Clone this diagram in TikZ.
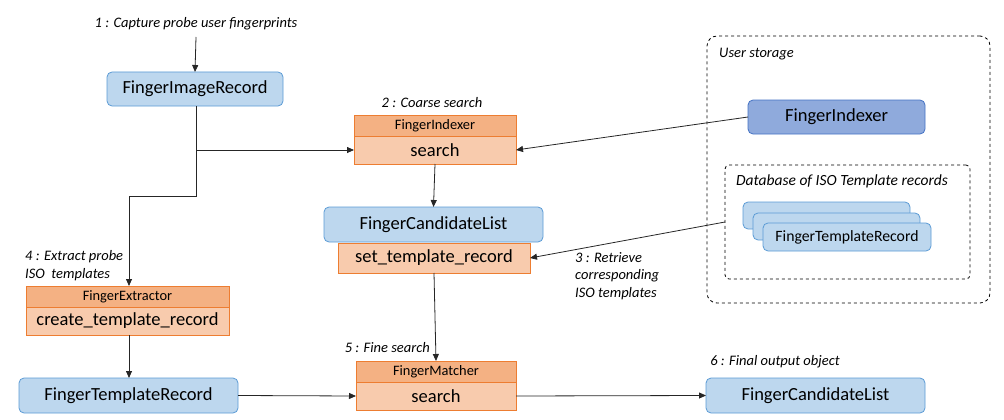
\documentclass[tikz,border=0pt]{standalone}
\usepackage{fontspec}
\setmainfont{Carlito}
\usetikzlibrary{arrows.meta}
\definecolor{bfill}{HTML}{BDD7EE}
\definecolor{bline}{HTML}{5B9BD5}
\definecolor{dfill}{HTML}{8FAADC}
\definecolor{dline}{HTML}{4472C4}
\definecolor{ohead}{HTML}{F4B183}
\definecolor{orow}{HTML}{F8CBAD}
\definecolor{oline}{HTML}{ED7D31}
\definecolor{conn}{HTML}{262626}
\tikzset{
  bluebox/.style={draw=bline, fill=bfill, rounded corners=5pt, line width=0.8pt, inner sep=0pt, outer sep=0pt, font=\fontsize{18.5}{20}\selectfont},
  darkbox/.style={bluebox, draw=dline, fill=dfill},
  headbox/.style={draw=oline, fill=ohead, line width=0.8pt, inner sep=0pt, outer sep=0pt, font=\fontsize{14.4}{16}\selectfont},
  rowbox/.style={draw=oline, fill=orow, line width=0.8pt, inner sep=0pt, outer sep=0pt, font=\fontsize{18.5}{20}\selectfont},
  lbl/.style={font=\fontsize{14.5}{17.5}\selectfont\itshape, inner sep=0pt, align=left},
  conn/.style={draw=conn, line width=0.8pt, -{Triangle[length=7pt,width=6pt]}},
  dashbox/.style={draw=black, dashed, line width=0.8pt, inner sep=0pt, outer sep=0pt}
}
\begin{document}
\begin{tikzpicture}[x=1pt,y=-1pt]
\useasboundingbox (0,0) rectangle (1004,420);

% storage group
\node[dashbox, rounded corners=10pt, minimum width=283pt, minimum height=267pt] (us) at (848.5,169.5) {};
\node[lbl, anchor=west] (uslbl) at (719,54) {User storage};
\node[darkbox, minimum width=177pt, minimum height=34pt] (fi2) at (836.5,117) {FingerIndexer};
\node[dashbox, rounded corners=4pt, minimum width=245pt, minimum height=114pt] (db) at (847.5,222) {};
\node[lbl, anchor=west, font=\fontsize{15.5}{17}\selectfont\itshape] (dblbl) at (736,181) {Database of ISO Template records};
\node[bluebox, minimum width=167pt, minimum height=27pt] (s1) at (826.5,215.5) {};
\node[bluebox, minimum width=167pt, minimum height=27pt] (s2) at (836.5,226.5) {};
\node[bluebox, minimum width=168pt, minimum height=28pt, font=\fontsize{15.75}{17}\selectfont] (s3) at (847,237) {FingerTemplateRecord};

% main flow
\node[lbl, anchor=center] (l1) at (196,24) {1 : Capture probe user fingerprints};
\coordinate (l1b) at (196,37);
\node[bluebox, minimum width=176pt, minimum height=34pt] (fir) at (195,89) {FingerImageRecord};

\node[lbl, anchor=center] (l2) at (432,103) {2 : Coarse search};
\node[headbox, minimum width=162pt, minimum height=21pt] (fih) at (435,125.5) {FingerIndexer};
\node[rowbox, minimum width=162pt, minimum height=28pt] (fis) at (435,150) {search};

\node[bluebox, minimum width=219pt, minimum height=35pt] (fcl1) at (433.5,224.5) {FingerCandidateList};
\node[rowbox, minimum width=192pt, minimum height=30pt] (str) at (434,258) {set\_template\_record};

\node[lbl, anchor=west] (l3) at (575,276) {3 : Retrieve\\corresponding\\ISO templates};

\node[lbl, anchor=west] (l4) at (25,265.5) {4 : Extract probe\\ISO\ \ templates};
\node[headbox, minimum width=203pt, minimum height=21pt] (feh) at (127.5,296.5) {FingerExtractor};
\node[rowbox, minimum width=203pt, minimum height=28pt] (fes) at (127.5,321) {create\_template\_record};

\node[bluebox, minimum width=219pt, minimum height=35pt] (ftr) at (128.5,395.5) {FingerTemplateRecord};

\node[lbl, anchor=east] (l5) at (430,348) {5 : Fine search};
\node[headbox, minimum width=160pt, minimum height=21pt] (fmh) at (436,371.5) {FingerMatcher};
\node[rowbox, minimum width=160pt, minimum height=28pt] (fms) at (436,396) {search};

\node[lbl, anchor=center] (l6) at (775,362) {6 : Final output object};
\node[bluebox, minimum width=219pt, minimum height=35pt] (fcl2) at (815.5,395.5) {FingerCandidateList};

% connectors
\coordinate (br) at (196,150);
\coordinate (bend1) at (196,196);
\coordinate (bend2) at (129,196);
\draw[conn] (l1b) -- (fir.north);
\draw[conn] (fir.south -| bend1) -- (bend1) -- (bend2) -- (feh.north -| bend2);
\draw[conn] (br) -- (fis.west);
\draw[conn] (fi2.west) -- (fis.east);
\draw[conn] (fis.south) -- (fcl1.north);
\draw[conn] (db.west) -- (str.east);
\draw[conn] (str.south) -- (fmh.north);
\draw[conn] (fes.south -| bend2) -- (ftr.north -| bend2);
\draw[conn] (ftr.east) -- (fms.west);
\draw[conn] (fms.east) -- (fcl2.west);
\end{tikzpicture}
\end{document}
